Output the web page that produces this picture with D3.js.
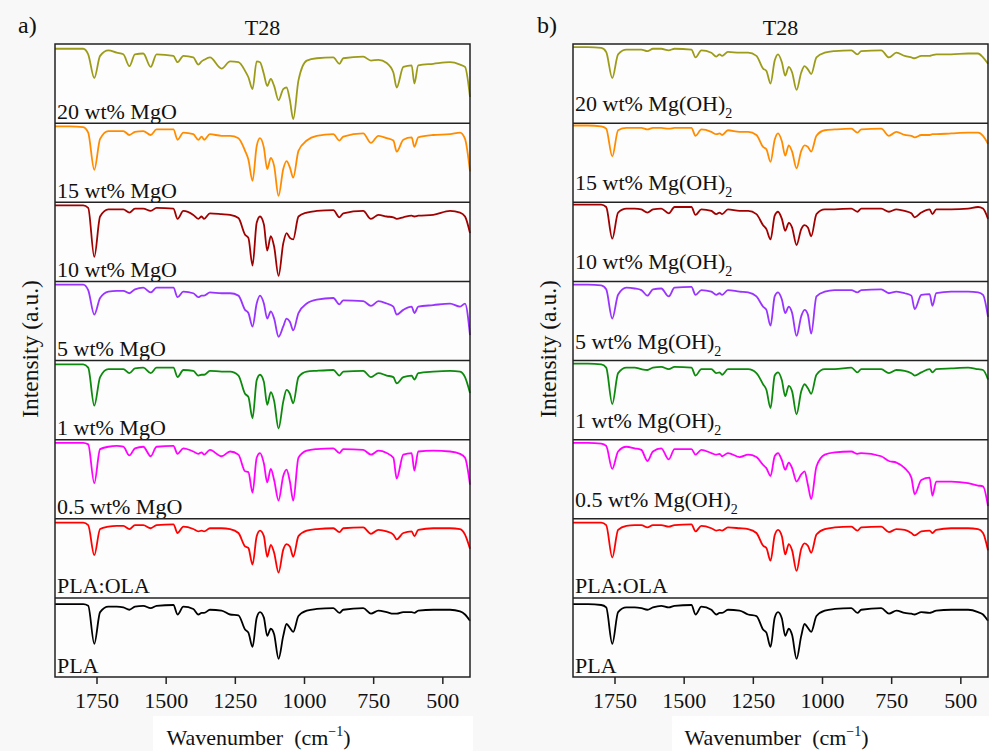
<!DOCTYPE html>
<html>
<head>
<meta charset="utf-8">
<script src="https://cdn.jsdelivr.net/npm/d3@7"></script>
<style>
body { margin: 0; background: #f8f8f8; }
svg { display: block; }
</style>
</head>
<body>
<svg width="989" height="751"></svg>
<script>
// wavenumber grid (cm-1) shared by every spectrum
var wavenumbers = [1900, 1846, 1798, 1780, 1758, 1737, 1707, 1677, 1653, 1631, 1611, 1581, 1554, 1533, 1472,
    1457, 1436, 1400, 1382, 1370, 1361, 1340, 1298, 1267, 1237, 1213, 1201, 1186, 1171, 1159,
    1145, 1133, 1120, 1108, 1092, 1075, 1063, 1051, 1039, 1020, 990, 954, 894, 872, 858,
    786, 758, 731, 701, 677, 665, 641, 611, 601, 587, 533, 472, 436, 418, 400];

// panel a) MgO, intensity 0-100 inside each strip
var mgo20 = [94, 94, 94, 87, 57, 85, 92, 89, 87, 72, 87, 88, 71, 87, 85, 77, 85, 83, 74, 78, 80, 83, 69, 78, 77, 66, 58, 43, 78, 77,
    62, 47, 56, 47, 29, 43, 45, 29, 5, 54, 79, 82, 83, 75, 82, 84, 79, 80, 76, 64, 45, 71, 73, 50, 73, 75, 77, 74, 71, 33];
var mgo15 = [96, 96, 95, 88, 41, 80, 90, 90, 90, 85, 89, 90, 85, 92, 92, 79, 88, 86, 79, 83, 79, 86, 84, 84, 81, 65, 54, 27, 71, 81,
    69, 42, 56, 46, 8, 42, 52, 44, 31, 65, 78, 84, 86, 78, 83, 87, 75, 84, 81, 78, 64, 79, 82, 70, 82, 85, 86, 88, 80, 39];
var mgo10 = [96, 96, 96, 93, 31, 82, 91, 91, 91, 87, 92, 92, 89, 93, 92, 79, 89, 84, 79, 82, 79, 86, 85, 84, 80, 59, 55, 20, 74, 82,
    72, 39, 57, 44, 7, 48, 61, 55, 53, 82, 87, 89, 90, 81, 86, 89, 79, 84, 82, 81, 79, 81, 83, 82, 83, 84, 89, 87, 82, 61];
var mgo5 = [96, 96, 96, 89, 58, 79, 87, 88, 88, 85, 90, 92, 86, 92, 92, 80, 87, 85, 80, 82, 82, 86, 85, 85, 82, 64, 60, 43, 72, 82,
    72, 53, 62, 53, 30, 43, 53, 49, 38, 60, 72, 77, 79, 71, 76, 75, 69, 75, 72, 68, 58, 64, 68, 60, 68, 70, 72, 68, 72, 32];
var mgo1 = [95, 95, 95, 91, 43, 79, 89, 89, 89, 84, 90, 91, 84, 91, 91, 79, 88, 87, 81, 82, 82, 87, 86, 86, 81, 58, 54, 27, 75, 82,
    73, 44, 60, 49, 14, 48, 63, 58, 46, 79, 86, 87, 88, 81, 86, 87, 79, 84, 81, 79, 71, 79, 81, 76, 84, 86, 87, 86, 79, 59];
var mgo05 = [96, 96, 96, 94, 45, 88, 91, 92, 91, 80, 89, 91, 79, 91, 92, 82, 89, 85, 82, 84, 81, 87, 79, 85, 81, 60, 59, 33, 77, 83,
    70, 46, 63, 49, 23, 54, 62, 47, 23, 77, 86, 88, 89, 83, 88, 87, 81, 86, 83, 77, 51, 81, 83, 61, 85, 86, 85, 82, 77, 43];
var plaOlaA = [95, 95, 95, 92, 54, 87, 90, 91, 91, 87, 92, 92, 88, 92, 93, 82, 90, 87, 84, 85, 84, 88, 88, 87, 82, 65, 63, 42, 78, 85,
    78, 52, 67, 57, 32, 61, 68, 65, 52, 78, 85, 87, 88, 83, 88, 89, 81, 86, 84, 80, 74, 82, 84, 78, 86, 88, 88, 87, 80, 62];
var plaA = [92, 92, 92, 90, 42, 82, 89, 89, 88, 85, 89, 90, 87, 90, 91, 79, 89, 86, 79, 81, 81, 85, 84, 79, 78, 60, 56, 38, 75, 82,
    75, 52, 61, 54, 23, 52, 67, 62, 57, 77, 84, 86, 87, 81, 85, 87, 80, 84, 82, 80, 80, 82, 82, 81, 84, 85, 85, 83, 79, 71];

// panel b) Mg(OH)2
var oh20 = [96, 96, 95, 90, 57, 87, 93, 93, 93, 91, 94, 94, 92, 94, 93, 83, 92, 89, 84, 87, 85, 90, 89, 89, 85, 69, 66, 50, 79, 87,
    77, 60, 71, 64, 42, 64, 72, 68, 62, 83, 89, 91, 92, 87, 91, 92, 83, 89, 85, 83, 82, 85, 85, 86, 87, 87, 88, 88, 83, 75];
var oh15 = [97, 97, 96, 93, 58, 91, 94, 94, 94, 92, 94, 94, 93, 94, 94, 84, 92, 89, 86, 87, 85, 91, 89, 89, 85, 70, 67, 51, 79, 87,
    77, 59, 72, 64, 43, 65, 72, 70, 64, 84, 91, 92, 93, 88, 92, 93, 84, 89, 85, 84, 82, 85, 85, 86, 86, 87, 88, 88, 84, 74];
var oh10 = [97, 97, 97, 94, 54, 87, 92, 92, 91, 87, 91, 92, 86, 94, 94, 84, 91, 89, 85, 87, 85, 91, 89, 89, 85, 71, 66, 53, 83, 88,
    79, 64, 74, 68, 46, 66, 71, 68, 57, 85, 91, 91, 92, 88, 92, 92, 88, 91, 89, 86, 81, 87, 91, 85, 91, 91, 92, 94, 92, 79];
var oh5 = [96, 96, 95, 90, 53, 83, 92, 91, 89, 82, 90, 91, 81, 92, 93, 83, 89, 87, 83, 85, 83, 89, 87, 86, 81, 68, 64, 44, 81, 86,
    77, 60, 68, 60, 31, 56, 64, 58, 34, 81, 87, 89, 89, 86, 89, 90, 85, 87, 85, 82, 65, 83, 84, 69, 85, 87, 87, 86, 83, 55];
var oh1 = [96, 96, 95, 91, 45, 84, 91, 91, 89, 88, 91, 92, 89, 92, 91, 81, 89, 89, 84, 85, 82, 89, 89, 89, 84, 70, 63, 40, 81, 85,
    75, 55, 68, 61, 32, 61, 70, 65, 58, 82, 89, 89, 91, 85, 89, 89, 84, 88, 87, 84, 81, 85, 89, 85, 89, 90, 91, 89, 88, 76];
var oh05 = [96, 96, 95, 92, 63, 85, 91, 89, 87, 73, 85, 89, 75, 88, 88, 81, 87, 83, 81, 82, 79, 83, 78, 81, 78, 68, 64, 54, 79, 83,
    74, 62, 71, 64, 47, 56, 60, 43, 25, 66, 81, 84, 85, 82, 83, 79, 73, 71, 64, 52, 31, 49, 52, 29, 47, 47, 45, 42, 41, 16];
var plaOlaB = [95, 95, 95, 92, 51, 86, 91, 92, 92, 89, 92, 92, 90, 92, 93, 84, 91, 88, 85, 86, 85, 89, 88, 87, 82, 66, 63, 47, 79, 86,
    78, 55, 68, 60, 34, 62, 69, 66, 57, 80, 87, 89, 90, 85, 89, 90, 83, 87, 86, 82, 79, 84, 85, 82, 86, 88, 88, 87, 82, 60];
var plaB = [92, 92, 91, 88, 42, 82, 88, 88, 87, 85, 88, 90, 88, 90, 91, 79, 89, 85, 79, 81, 81, 85, 84, 79, 77, 60, 56, 38, 75, 82,
    74, 52, 61, 53, 23, 52, 67, 62, 57, 77, 84, 86, 87, 81, 85, 87, 80, 84, 81, 80, 79, 82, 81, 82, 84, 85, 85, 82, 79, 71];

var labelsMgO = ["20 wt% MgO", "15 wt% MgO", "10 wt% MgO", "5 wt% MgO", "1 wt% MgO", "0.5 wt% MgO", "PLA:OLA", "PLA"];
var labelsMgOH = ["20 wt% Mg(OH)_2", "15 wt% Mg(OH)_2", "10 wt% Mg(OH)_2", "5 wt% Mg(OH)_2", "1 wt% Mg(OH)_2",
    "0.5 wt% Mg(OH)_2", "PLA:OLA", "PLA"];
var colors = ["#9c9c1a", "#ff8c00", "#a00000", "#9933ff", "#0d8a0d", "#ff00ff", "#ff0000", "#000000"];
var tickValues = [1750, 1500, 1250, 1000, 750, 500];

var svg = d3.select("svg"),
    plotTop = 44,
    plotBottom = 677;

var panels = [
    {x0: 55, x1: 470, letter: "a)", letterX: 18, boxX: 153, series: [mgo20, mgo15, mgo10, mgo5, mgo1, mgo05, plaOlaA, plaA], labels: labelsMgO},
    {x0: 573, x1: 988, letter: "b)", letterX: 537, boxX: 672, series: [oh20, oh15, oh10, oh5, oh1, oh05, plaOlaB, plaB], labels: labelsMgOH}
];

panels.forEach(drawPanel);

// every text gets the serif face through inline style
svg.selectAll("text").style("font-family", "'Liberation Serif'").style("fill", "#111");

function drawPanel(p) {
    var x = d3.scaleLinear().domain([1900, 400]).range([p.x0, p.x1]),
        band = d3.scaleBand().domain(d3.range(p.series.length)).range([plotTop, plotBottom]),
        g = svg.append("g");

    // white box behind the axis title
    g.append("rect")
        .attr("x", p.boxX).attr("y", 716)
        .attr("width", 320).attr("height", 35)
        .attr("fill", "#ffffff");

    g.append("rect")
        .attr("x", p.x0).attr("y", plotTop)
        .attr("width", p.x1 - p.x0).attr("height", plotBottom - plotTop)
        .attr("fill", "#fdfdfd");

    p.series.forEach(function (values, i) {
        var y = d3.scaleLinear().domain([0, 100]).range([band(i) + band.bandwidth(), band(i)]);
        var line = d3.line()
            .x(function (d, j) { return x(wavenumbers[j]); })
            .y(function (d) { return y(d); })
            .curve(d3.curveMonotoneX);
        g.append("path")
            .datum(values)
            .attr("d", line)
            .attr("fill", "none")
            .attr("stroke", colors[i])
            .attr("stroke-width", 1.8)
            .attr("stroke-linejoin", "round");

        var parts = p.labels[i].split("_"),
            sub = parts.length > 1,
            label = g.append("text")
                .attr("x", p.x0 + 2)
                .attr("y", band(i) + band.bandwidth() - (sub ? 12 : 4.5))
                .style("font-size", "22px");
        label.append("tspan").text(parts[0]);
        if (sub) {
            label.append("tspan").attr("dy", 7).style("font-size", "14px").text(parts[1]);
        }
    });

    // strip separators
    g.selectAll(".sep")
        .data(d3.range(1, p.series.length))
        .enter().append("line")
        .attr("x1", p.x0).attr("x2", p.x1)
        .attr("y1", function (d) { return band(d); })
        .attr("y2", function (d) { return band(d); })
        .attr("stroke", "#222")
        .attr("stroke-width", 1.5);

    g.append("rect")
        .attr("x", p.x0).attr("y", plotTop)
        .attr("width", p.x1 - p.x0).attr("height", plotBottom - plotTop)
        .attr("fill", "none")
        .attr("stroke", "#222")
        .attr("stroke-width", 1.5);

    var axis = g.append("g")
        .attr("transform", "translate(0," + plotBottom + ")")
        .call(d3.axisBottom(x).tickValues(tickValues).tickFormat(d3.format("d"))
            .tickSize(7).tickSizeOuter(0).tickPadding(8));
    axis.select(".domain").remove();
    axis.selectAll(".tick line").attr("stroke", "#222").attr("stroke-width", 1.5);
    axis.selectAll(".tick text").style("font-size", "22px");

    var cx = (p.x0 + p.x1) / 2;
    g.append("text")
        .attr("x", cx).attr("y", 35)
        .attr("text-anchor", "middle")
        .style("font-size", "22px")
        .text("T28");

    g.append("text")
        .attr("x", p.letterX).attr("y", 33)
        .style("font-size", "24px")
        .text(p.letter);

    g.append("text")
        .attr("transform", "translate(" + (p.x0 - 17) + ",349) rotate(-90)")
        .attr("text-anchor", "middle")
        .style("font-size", "23.5px")
        .text("Intensity (a.u.)");

    var xt = g.append("text")
        .attr("x", cx - 4).attr("y", 745)
        .attr("text-anchor", "middle")
        .style("font-size", "22px");
    xt.append("tspan").text("Wavenumber\u00a0 (cm");
    xt.append("tspan").attr("dy", -9).style("font-size", "14px").text("\u22121");
    xt.append("tspan").attr("dy", 9).text(")");
}
</script>
</body>
</html>
